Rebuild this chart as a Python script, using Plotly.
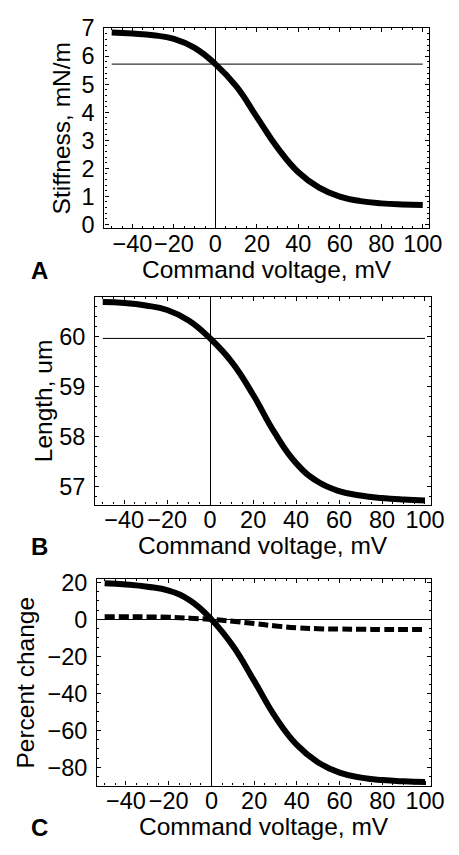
import plotly.graph_objects as go

# ---------------- data ----------------
voltage = [-50, -40, -30, -20, -10, 0, 10, 20, 30, 40, 50, 60, 70, 80, 90, 100]

stiffness = [6.85, 6.81, 6.75, 6.62, 6.30, 5.72, 4.93, 3.83, 2.73, 1.86,
             1.31, 0.99, 0.83, 0.75, 0.71, 0.69]
stiffness_ref = 5.72

length = [60.70, 60.68, 60.63, 60.54, 60.33, 59.97, 59.50, 58.84, 58.08,
          57.47, 57.10, 56.91, 56.82, 56.77, 56.74, 56.72]
length_ref = 59.97

pct_stiffness = [19.6, 18.9, 17.7, 15.6, 10.2, 0.0, -14.2, -33.2, -52.8,
                 -67.8, -77.3, -82.8, -85.5, -86.8, -87.5, -87.9]
pct_length = [1.5, 1.5, 1.4, 1.2, 0.7, 0.0, -1.0, -2.2, -3.5, -4.5, -5.0,
              -5.2, -5.3, -5.4, -5.4, -5.4]

x_ticks = [-40, -20, 0, 20, 40, 60, 80, 100]
yA_ticks = [0, 1, 2, 3, 4, 5, 6, 7]
yB_ticks = [57, 58, 59, 60]
yC_ticks = [-80, -60, -40, -20, 0, 20]

x_title = "Command voltage, mV"
y_titles = ["Stiffness, mN/m", "Length, um", "Percent change"]
panel_letters = ["A", "B", "C"]

# ---------------- layout helpers ----------------
W, H = 459, 855
FONT = "Liberation Sans, Arial, Helvetica, sans-serif"


def px_x(p):
    return p / W


def px_y(p):
    return 1 - p / H


# frame boxes in pixels: (left, right, top, bottom)
frames = [(107.5, 441.5, 15.5, 221.0),
          (98.0, 444.0, 291.0, 504.5),
          (100.0, 444.0, 581.0, 793.0)]
y_ranges = [[-0.14, 7.005], [56.64, 60.81], [-89.8, 21.85]]
y_tick_sets = [yA_ticks, yB_ticks, yC_ticks]
y_minor = [0.2, 0.2, 5]
y_title_x = [63, 45, 26]

fig = go.Figure()

THICK = 6
series = [
    [(stiffness, "solid")],
    [(length, "solid")],
    [(pct_stiffness, "solid"), (pct_length, "10px,4px")],
]
refs = [stiffness_ref, length_ref, None]

layout_axes = {}
annotations = []
for i in range(3):
    n = "" if i == 0 else str(i + 1)
    xa, ya = "x" + n, "y" + n
    if refs[i] is not None:
        fig.add_trace(go.Scatter(x=[voltage[0], voltage[-1]], y=[refs[i], refs[i]],
                                 mode="lines", line=dict(color="black", width=1),
                                 xaxis=xa, yaxis=ya, showlegend=False, hoverinfo="skip"))
    for vals, dash in series[i]:
        fig.add_trace(go.Scatter(x=voltage, y=vals, mode="lines",
                                 line=dict(color="black", width=THICK if dash == "solid" else 5,
                                           dash=dash, shape="spline", smoothing=1.3),
                                 xaxis=xa, yaxis=ya, showlegend=False))
    l, r, t, b = frames[i]
    common = dict(showline=True, linecolor="black", linewidth=1.3, mirror="allticks",
                  ticks="inside", ticklen=4, tickwidth=1, tickcolor="black",
                  showgrid=False, zeroline=False, tickangle=0,
                  tickfont=dict(family=FONT, size=23.5, color="black"))
    layout_axes["xaxis" + n] = dict(
        common, domain=[px_x(l), px_x(r)], range=[-53.5, 103], anchor=ya,
        tickvals=x_ticks, zeroline=True, zerolinecolor="black", zerolinewidth=1,
        minor=dict(ticks="inside", ticklen=2, dtick=5, tick0=0, tickcolor="black", tickwidth=1),
        ticklabelstandoff=-6)
    layout_axes["yaxis" + n] = dict(
        common, domain=[px_y(b), px_y(t)], range=y_ranges[i], anchor=xa,
        tickvals=y_tick_sets[i], zeroline=(i == 2), zerolinecolor="black", zerolinewidth=1,
        minor=dict(ticks="inside", ticklen=2, dtick=y_minor[i], tick0=0, tickcolor="black", tickwidth=1),
        ticklabelstandoff=4)
    # titles and letters
    annotations.append(dict(text=x_title, x=px_x((l + r) / 2), y=px_y(b + 42),
                            xref="paper", yref="paper", showarrow=False,
                            xanchor="center", yanchor="middle",
                            font=dict(family=FONT, size=24.5, color="black")))
    annotations.append(dict(text=y_titles[i], x=px_x(y_title_x[i]), y=px_y((t + b) / 2),
                            xref="paper", yref="paper", showarrow=False, textangle=-90,
                            xanchor="center", yanchor="middle",
                            font=dict(family=FONT, size=24.5, color="black")))
    annotations.append(dict(text="<b>" + panel_letters[i] + "</b>", x=px_x(41), y=px_y(b + 43),
                            xref="paper", yref="paper", showarrow=False,
                            xanchor="center", yanchor="middle",
                            font=dict(family=FONT, size=24, color="black")))

fig.update_layout(width=W, height=H, autosize=False,
                  margin=dict(l=0, r=0, t=0, b=0, pad=0),
                  paper_bgcolor="white", plot_bgcolor="white",
                  annotations=annotations, **layout_axes)

fig.write_html("out.html", config={"displayModeBar": False},
               post_script="document.body.style.margin='0';document.body.style.overflow='hidden';")
